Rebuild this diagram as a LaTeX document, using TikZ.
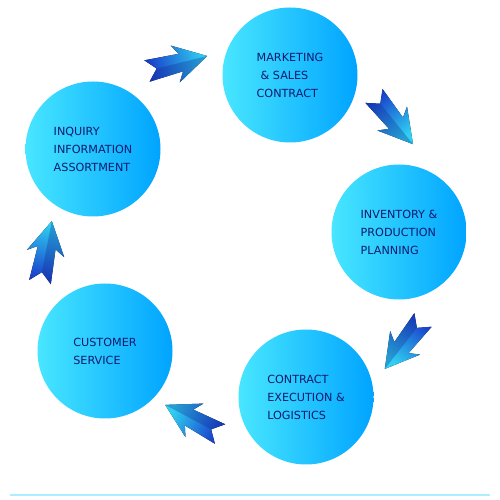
\documentclass[tikz,border=0pt]{standalone}
\usepackage{fontspec}
\setmainfont{DejaVu Sans}
\usetikzlibrary{calc}

\definecolor{circleleft}{HTML}{48E6FF}
\definecolor{circleright}{HTML}{00A4FF}
\definecolor{labelnavy}{HTML}{0B1C6E}
\definecolor{arrowtail}{HTML}{1838C8}
\definecolor{arrowhead}{HTML}{2FD0F2}
\definecolor{footline}{HTML}{AAEEFF}

\tikzset{
  stage/.style={circle, minimum size=135pt, inner sep=0pt,
    left color=circleleft, right color=circleright,
    text=labelnavy, align=left, font=\fontsize{11.2}{18}\selectfont},
  pics/flowarrow/.style={code={
    % body, shaded from tail to tip
    \fill[left color=arrowtail, right color=arrowhead, shading angle=90+#1, rotate=#1]
      (0,11) -- (10,0) -- (0,-11) -- (35,-9) -- (29,-19) -- (62,0) -- (29,19) -- (35,9) -- cycle;
    % darker lower facet
    \fill[arrowtail!70!black, opacity=0.3, rotate=#1]
      (10,0) -- (0,-11) -- (35,-9) -- (29,-19) -- (62,0) -- cycle;
  }}
}

\begin{document}
\begin{tikzpicture}[x=1pt, y=1pt]
  \useasboundingbox (0,0) rectangle (500,500);

  % stages
  \node[stage] (mkt) at (290,425) {MARKETING\\\hspace{4pt}\& SALES\\CONTRACT};
  \node[stage] (inq) at (93,351) {INQUIRY\\INFORMATION\\ASSORTMENT};
  \node[stage] (inv) at (399,268) {INVENTORY \&\\PRODUCTION\\PLANNING};
  \node[stage] (ctr) at (306,103) {CONTRACT\\EXECUTION \&\\LOGISTICS};
  \node[stage] (cus) at (105,149) {CUSTOMER\\SERVICE};

  % arrow tails between the stages
  \coordinate (inq-mkt) at (147,429);
  \coordinate (mkt-inv) at (374,404);
  \coordinate (inv-ctr) at (423,180);
  \coordinate (ctr-cus) at (220,66);
  \coordinate (cus-inq) at (40,218);

  \pic at (inq-mkt) {flowarrow=14};
  \pic at (mkt-inv) {flowarrow=-51};
  \pic at (inv-ctr) {flowarrow=-128};
  \pic at (ctr-cus) {flowarrow=152};
  \pic at (cus-inq) {flowarrow=79};

  % bottom rule
  \draw[footline, line width=2pt] (10,4.5) -- (490,4.5);
\end{tikzpicture}
\end{document}
